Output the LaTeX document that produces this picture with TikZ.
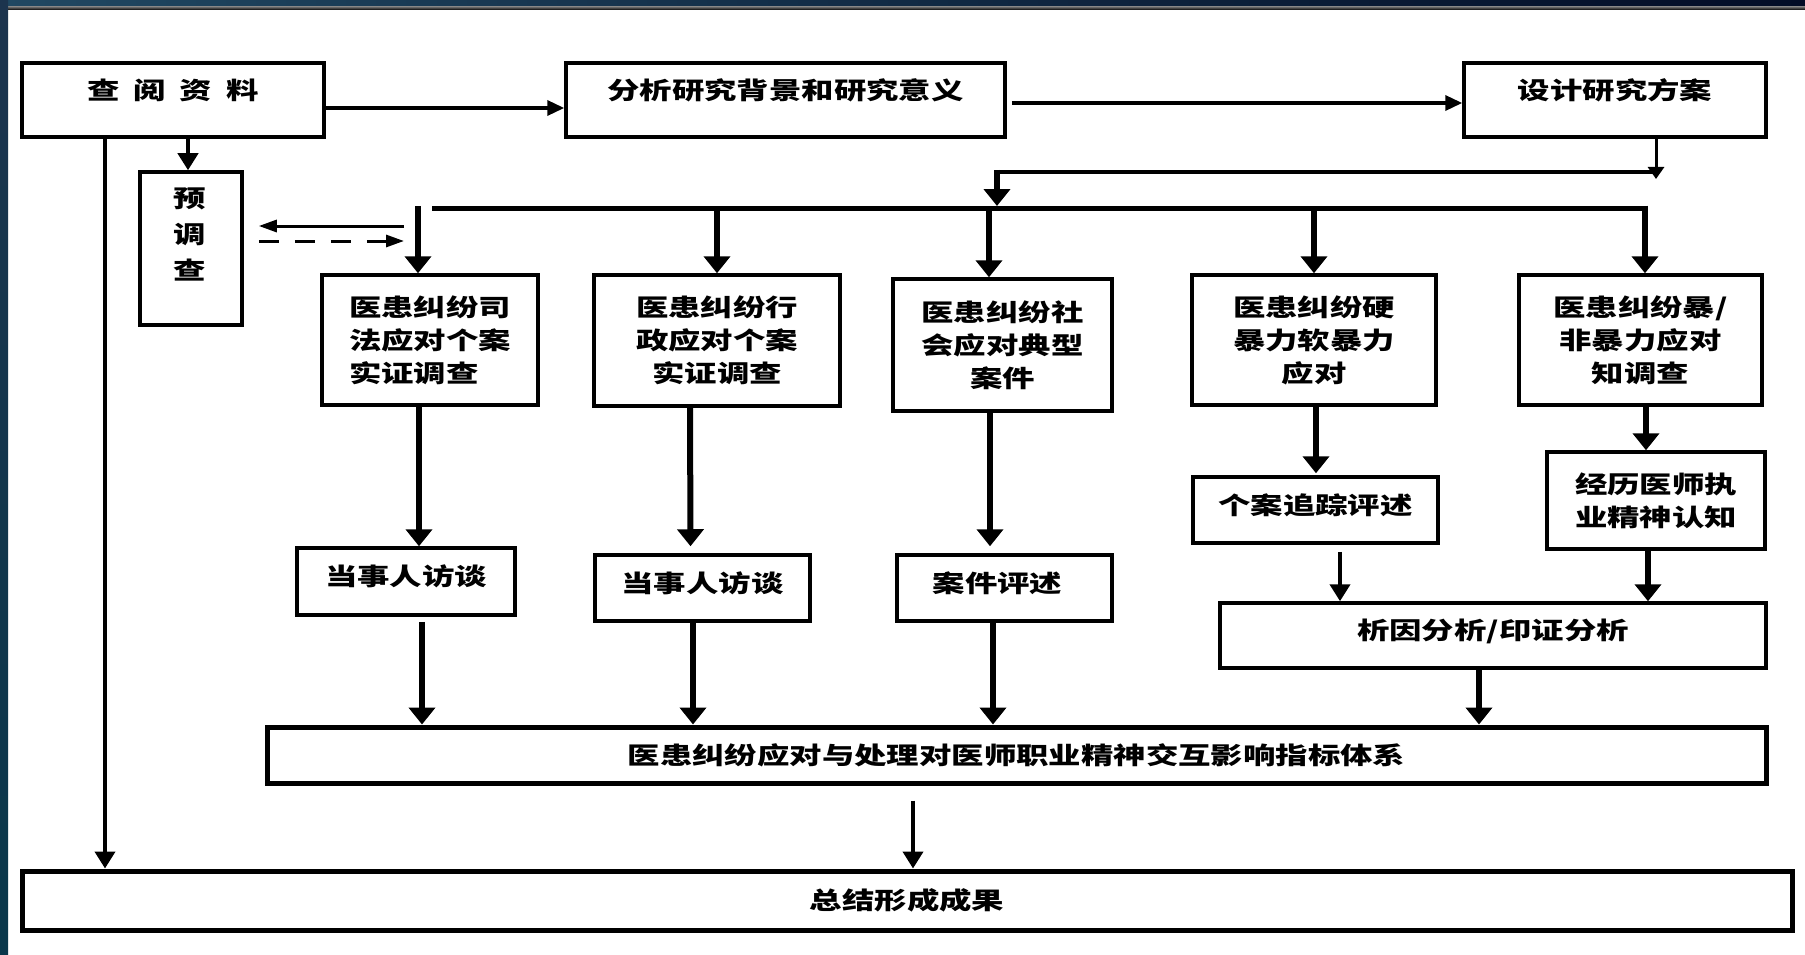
\documentclass[tikz,border=0pt]{standalone}
\usepackage{fontspec}
\newfontfamily\cjk[FakeStretch=1.35]{Noto Sans CJK SC}
\newcommand\cjkfont{\cjk\bfseries\fontsize{24}{33}\selectfont}
\usetikzlibrary{arrows.meta}
\definecolor{bandL}{RGB}{32,72,98}
\definecolor{bandR}{RGB}{2,12,38}
\definecolor{stripT}{RGB}{28,52,78}
\definecolor{stripB}{RGB}{10,55,75}
\begin{document}
\begin{tikzpicture}[x=1pt,y=-1pt,
  box/.style={draw, line width=3.5pt, inner sep=0pt, align=center, font=\cjkfont},
  heavybox/.style={box, line width=5pt},
  txt/.style={inner sep=0pt, align=center, font=\cjk\bfseries\fontsize{24}{36}\selectfont},
  up9/.style={text height=12pt, text depth=12pt},
  up5/.style={text height=14pt, text depth=5.8pt},
  atop/.style={line width=3.5pt, -{Triangle[length=17pt,width=15pt]}},
  athin/.style={line width=3pt, -{Triangle[length=12pt,width=16pt]}},
  abig/.style={line width=6pt, -{Triangle[length=17pt,width=26pt]}},
  amid/.style={line width=4pt, -{Triangle[length=17pt,width=20pt]}},
  apre/.style={line width=3pt, -{Triangle[length=18pt,width=12pt]}}
]
\useasboundingbox (0,0) rectangle (1805,955);
\fill[white] (0,0) rectangle (1805,955);
\shade[left color=bandL, right color=bandR] (0,0) rectangle (1805,7);
\shade[top color=black!60, bottom color=black] (0,7) rectangle (1805,10);
\shade[top color=stripT, bottom color=stripB] (0,0) rectangle (8,955);

% boxes
\node[box, up9, minimum width=302pt, minimum height=74pt] (src) at (173,100) {查\hspace{14pt}阅\hspace{14pt}资\hspace{14pt}料};
\node[box, up9, minimum width=439pt, minimum height=74pt] (bg) at (785.5,100) {分析研究背景和研究意义};
\node[box, up9, minimum width=302pt, minimum height=74pt] (plan) at (1615,100) {设计研究方案};
\node[box, minimum width=102pt, minimum height=153pt] (pre) at (191,248.5) {};
\node[txt] (pretxt) at (190,234) {预\\调\\查};

\node[box, align=left, minimum width=216pt, minimum height=130pt] (A) at (430,340) {医患纠纷司\\法应对个案\\实证调查};
\node[box, minimum width=246pt, minimum height=131pt] (B) at (717,340.5) {医患纠纷行\\政应对个案\\实证调查};
\node[box, minimum width=219pt, minimum height=132pt] (C) at (1002.5,345) {医患纠纷社\\会应对典型\\案件};
\node[box, minimum width=244pt, minimum height=130pt] (D) at (1314,340) {医患纠纷硬\\暴力软暴力\\应对};
\node[box, minimum width=243pt, minimum height=130pt] (E) at (1640.5,340) {医患纠纷暴/\\非暴力应对\\知调查};

\node[box, up5, minimum width=218pt, minimum height=67pt] (A2) at (406,581.5) {当事人访谈};
\node[box, up5, minimum width=215pt, minimum height=66pt] (B2) at (702.5,588) {当事人访谈};
\node[box, up5, minimum width=215pt, minimum height=66pt] (C2) at (1004.5,588) {案件评述\hspace{14pt}};
\node[box, up5, minimum width=245pt, minimum height=66pt] (D2) at (1315.5,510) {个案追踪评述};
\node[box, minimum width=218pt, minimum height=97pt] (E2) at (1656,500.5) {经历医师执\\业精神认知};
\node[box, up5, minimum width=546pt, minimum height=65pt] (F) at (1493,635.5) {析因分析/印证分析};
\node[heavybox, minimum width=1499pt, minimum height=56pt] (M) at (1016.5,755) {医患纠纷应对与处理对医师职业精神交互影响指标体系};
\node[heavybox, minimum width=1770pt, minimum height=59pt] (S) at (907,900.5) {总结形成成果};

% helper coordinates
\coordinate (pr) at (1656,172);
\coordinate (prtip) at (1656,179);
\coordinate (pl) at (997,172);
\coordinate (plt) at (997,170);
\coordinate (plb) at (997,206);
\coordinate (busL) at (418,206);
\coordinate (busS) at (432,208);
\coordinate (busR) at (1645,208);
\coordinate (busC) at (989,208);
\coordinate (pa1) at (404,226);
\coordinate (pa2) at (404,241);

% connectors
\draw[atop] ([yshift=-8pt]src.east) -- ([yshift=-8pt]bg.west);
\draw[atop] ([shift={(5pt,-3pt)}]bg.east) -- ([yshift=-3pt]plan.west);
\draw[athin] ([xshift=41pt]plan.south) -- (prtip);
\draw[line width=4pt] (pr) -- (pl);
\draw[abig] (plt) -- (plb);
\draw[line width=5pt] (busS) -- (busR);
\draw[abig] (busL) -- (busL |- A.north);
\draw[abig] (B.north |- busR) -- (B.north);
\draw[abig] (busC) -- (busC |- C.north);
\draw[abig] (D.north |- busR) -- (D.north);
\draw[abig] ([yshift=2.5pt]busR) -- (busR |- E.north);

\draw[abig] ([xshift=-11pt]A.south) -- ([xshift=-11pt]A.south |- A2.north);
\draw[abig] ([shift={(16pt,-5pt)}]A2.south) -- ([xshift=16pt]A2.south |- M.north);
\draw[abig] ([xshift=-27pt]B.south) -- ([xshift=-12pt,yshift=7pt]B2.north);
\draw[abig] ([xshift=-9.5pt]B2.south) -- ([xshift=-9.5pt]B2.south |- M.north);
\draw[abig] ([xshift=-12.5pt]C.south) -- ([xshift=-14.5pt,yshift=7pt]C2.north);
\draw[abig] ([xshift=-11.5pt]C2.south) -- ([xshift=-11.5pt]C2.south |- M.north);
\draw[abig] ([xshift=2pt]D.south) -- ([xshift=0.5pt,yshift=2pt]D2.north);
\draw[abig] ([xshift=5.5pt]E.south) -- ([xshift=5.5pt]E.south |- E2.north);
\draw[amid] ([shift={(24.5pt,-7pt)}]D2.south) -- ([xshift=24.5pt]D2.south |- F.north);
\draw[abig] ([xshift=-8pt]E2.south) -- ([xshift=-8pt]E2.south |- F.north);
\draw[abig] ([xshift=-14pt]F.south) -- ([xshift=-14pt]F.south |- M.north);
\draw[amid] ([shift={(-103.5pt,-15pt)}]M.south) -- ([xshift=-103.5pt]M.south |- S.north);
\draw[amid] ([xshift=-68pt]src.south) -- ([xshift=-68pt]src.south |- S.north);
\draw[amid] ([xshift=15pt]src.south) -- ([xshift=15pt]src.south |- pre.north);
\draw[apre] (pa1) -- ([shift={(15pt,22.5pt)}]pre.east);
\draw[apre, dash pattern=on 20pt off 16pt] ([shift={(15pt,7.5pt)}]pre.east) -- (pa2);
\end{tikzpicture}
\end{document}
